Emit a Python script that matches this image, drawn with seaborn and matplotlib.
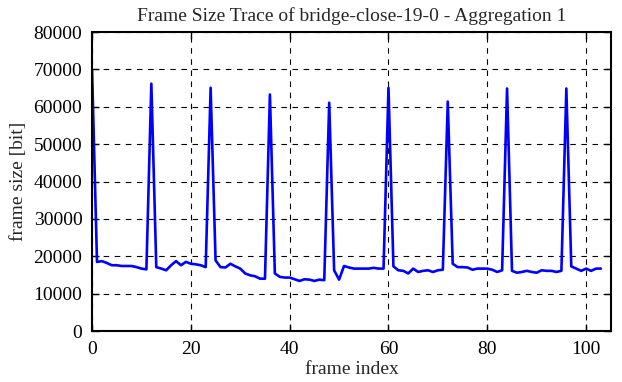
import matplotlib
matplotlib.use("Agg")
import matplotlib.pyplot as plt
import seaborn as sns
import pandas as pd
import numpy as np

frame_size = [
    70000, 18500, 18700, 18200, 17600, 17600, 17400, 17400, 17400, 17100, 16700, 16500,
    66200, 17100, 16700, 16250, 17600, 18700, 17600, 18500, 18000, 17850, 17600, 17100,
    65100, 18900, 17100, 17000, 18000, 17300, 16700, 15400, 14900, 14650, 14000, 14000,
    63300, 15400, 14500, 14300, 14300, 13850, 13400, 13850, 13750, 13400, 13750, 13600,
    61100, 16250, 13750, 17400, 17000, 16700, 16700, 16700, 16700, 16900, 16700, 16700,
    65100, 17300, 16250, 16100, 15400, 16700, 15800, 16100, 16250, 15800, 16250, 16400,
    61400, 18000, 17100, 17100, 17000, 16400, 16700, 16700, 16700, 16400, 15800, 16250,
    64900, 16100, 15600, 15800, 16100, 15800, 15600, 16250, 16100, 16100, 15800, 16100,
    64900, 17300, 16700, 16100, 16700, 16100, 16700, 16700,
]
frame_index = list(range(len(frame_size)))
x_ticks = [0, 20, 40, 60, 80, 100]
y_ticks = [0, 10000, 20000, 30000, 40000, 50000, 60000, 70000, 80000]

df = pd.DataFrame({"frame index": frame_index, "frame size [bit]": frame_size})

sns.set_style("ticks")
plt.rcParams['font.family'] = ['Liberation Serif', 'DejaVu Serif']
fs = 14
plt.rcParams['font.size'] = fs

fig = plt.figure(figsize=(6.22, 3.82), dpi=100)
ax = fig.add_axes([0.148, 0.1335, 0.834, 0.7825])
sns.lineplot(data=df, x="frame index", y="frame size [bit]", color="#0000ff", linewidth=1.9, ax=ax)

ax.set_xlim(0, 105)
ax.set_ylim(0, 80000)
ax.set_xticks(x_ticks)
ax.set_yticks(y_ticks)
ax.set_xticklabels([str(t) for t in x_ticks], fontsize=fs)
ax.set_yticklabels([str(t) for t in y_ticks], fontsize=fs)
ax.tick_params(direction="in", top=True, right=True, length=5, width=1, colors="black", pad=7)
ax.grid(True, color="black", linestyle=(0, (5, 5)), linewidth=0.8)
for s in ax.spines.values():
    s.set_linewidth(1.5)
    s.set_color("black")
ax.set_xlabel("frame index", fontsize=fs, labelpad=2)
ax.set_ylabel("frame size [bit]", fontsize=fs, labelpad=5)
ax.set_title("Frame Size Trace of bridge-close-19-0 - Aggregation 1", fontsize=fs, pad=8)

fig.savefig("out.png", dpi=100)
